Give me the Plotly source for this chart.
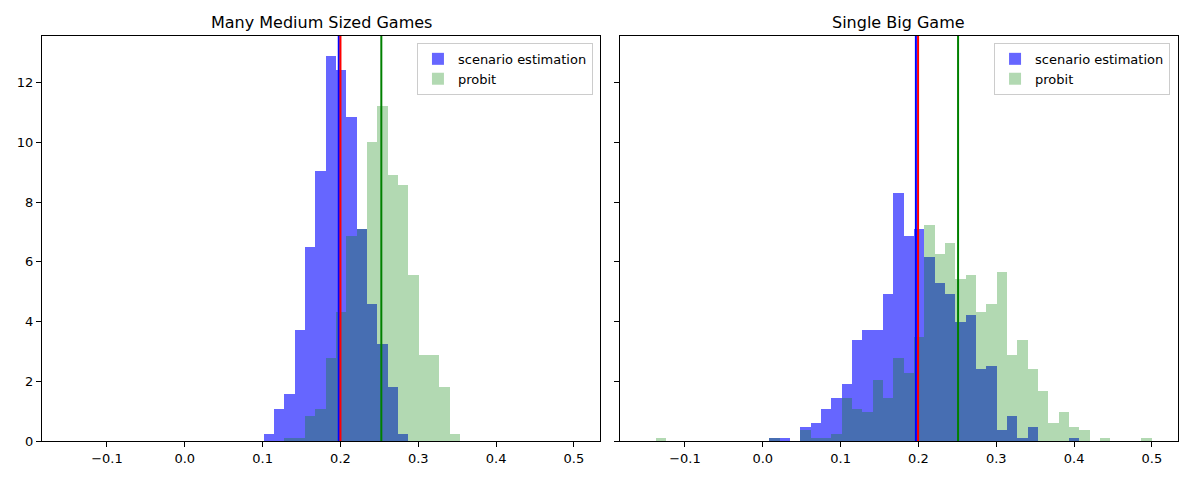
import numpy as np
import plotly.graph_objects as go
from plotly.subplots import make_subplots

# histogram grid shared by both panels (48 bins)
bin_edges = np.linspace(-0.1376, 0.4996, 49)

# Many Medium Sized Games: densities for bins 18..36
left_first_bin = 18
left_scenario = [0.23, 1.07, 1.58, 3.72, 6.5, 9.05, 12.9, 12.44, 10.85, 7.1,
                 4.59, 3.25, 1.81, 0.23, 0, 0, 0, 0, 0]
left_probit = [0, 0, 0.1, 0.1, 0.84, 1.07, 2.78, 4.32, 6.87, 7.1,
               10.02, 11.23, 8.92, 8.58, 5.56, 2.88, 2.88, 1.81, 0.23]

# Single Big Game: densities for all 48 bins
right_scenario = [0, 0, 0, 0, 0, 0, 0, 0, 0, 0, 0,
                  0.1, 0.1, 0, 0.47, 0.6, 1.07, 1.44, 1.91, 3.39, 3.72,
                  3.72, 4.93, 8.31, 6.87, 7.1, 6.17, 5.3, 4.93, 3.99, 4.22,
                  2.41, 2.51, 0.37, 0.84, 0.1, 0.47, 0, 0, 0, 0.1,
                  0, 0, 0, 0, 0, 0, 0]
right_probit = [0.1, 0, 0, 0, 0, 0, 0, 0, 0, 0, 0,
                0.1, 0, 0, 0.37, 0.1, 0.1, 0.23, 1.44, 1.07, 0.97,
                2.04, 1.44, 2.78, 2.28, 3.49, 7.24, 6.27, 6.64, 5.43, 5.56,
                4.32, 4.59, 5.67, 2.88, 3.39, 2.41, 1.68, 0.6, 0.97, 0.47,
                0.37, 0, 0.1, 0, 0, 0, 0.1]

# vertical reference lines (true value, scenario mean, probit mean)
left_lines = {"blue": 0.1978, "red": 0.2, "green": 0.2525}
right_lines = {"blue": 0.1967, "red": 0.1995, "green": 0.2509}

titles = ["Many Medium Sized Games", "Single Big Game"]

centers = (bin_edges[:-1] + bin_edges[1:]) / 2
width = bin_edges[1] - bin_edges[0]
left_centers = centers[left_first_bin:left_first_bin + len(left_scenario)]

fig = make_subplots(rows=1, cols=2, shared_yaxes=True, horizontal_spacing=0.0176,
                    subplot_titles=titles)

BLUE = "rgba(0,0,255,0.6)"
GREEN = "rgba(0,128,0,0.3)"

panels = [
    (1, left_centers, left_scenario, left_probit, "legend"),
    (2, centers, right_scenario, right_probit, "legend2"),
]
for col, xs, scen, prob, leg in panels:
    fig.add_trace(go.Bar(x=xs, y=scen, width=width, name="scenario estimation",
                         marker=dict(color=BLUE, line=dict(width=0)), legend=leg),
                  row=1, col=col)
    fig.add_trace(go.Bar(x=xs, y=prob, width=width, name="probit",
                         marker=dict(color=GREEN, line=dict(width=0)), legend=leg),
                  row=1, col=col)

for xref, lines in [("x", left_lines), ("x2", right_lines)]:
    for color, xv in lines.items():
        fig.add_shape(type="line", xref=xref, yref=xref.replace("x", "y") + " domain",
                      x0=xv, x1=xv, y0=0, y1=1,
                      line=dict(color=color if color != "green" else "#008000", width=2))

axis_style = dict(showline=True, mirror=True, linecolor="black", linewidth=1,
                  ticks="outside", ticklen=5, tickwidth=1, tickcolor="black",
                  showgrid=False, zeroline=False, automargin=False,
                  tickfont=dict(size=13, color="black"))
fig.update_xaxes(range=[-0.1835, 0.5335], tick0=0, dtick=0.1, tickformat=".1f",
                 **axis_style)
fig.update_yaxes(range=[0, 13.57], tick0=0, dtick=2, **axis_style)
fig.update_yaxes(showticklabels=False, row=1, col=2)

for ann in fig.layout.annotations:
    ann.font = dict(size=16, color="black")
    ann.yshift = 2

legend_style = dict(xanchor="right", yanchor="top", y=0.983,
                    bgcolor="rgba(255,255,255,0.8)", bordercolor="#cccccc",
                    borderwidth=1, font=dict(size=13, color="black"))

# page body has an 8px margin, so the figure is shrunk by that amount
fig.update_layout(
    width=1184, height=472,
    barmode="overlay", bargap=0,
    plot_bgcolor="white", paper_bgcolor="white",
    font=dict(family="DejaVu Sans", color="black"),
    margin=dict(l=34, r=14, t=28, b=39),
    legend=dict(x=0.485, **legend_style),
    legend2=dict(x=0.993, **legend_style),
)

fig.write_html("out.html")
